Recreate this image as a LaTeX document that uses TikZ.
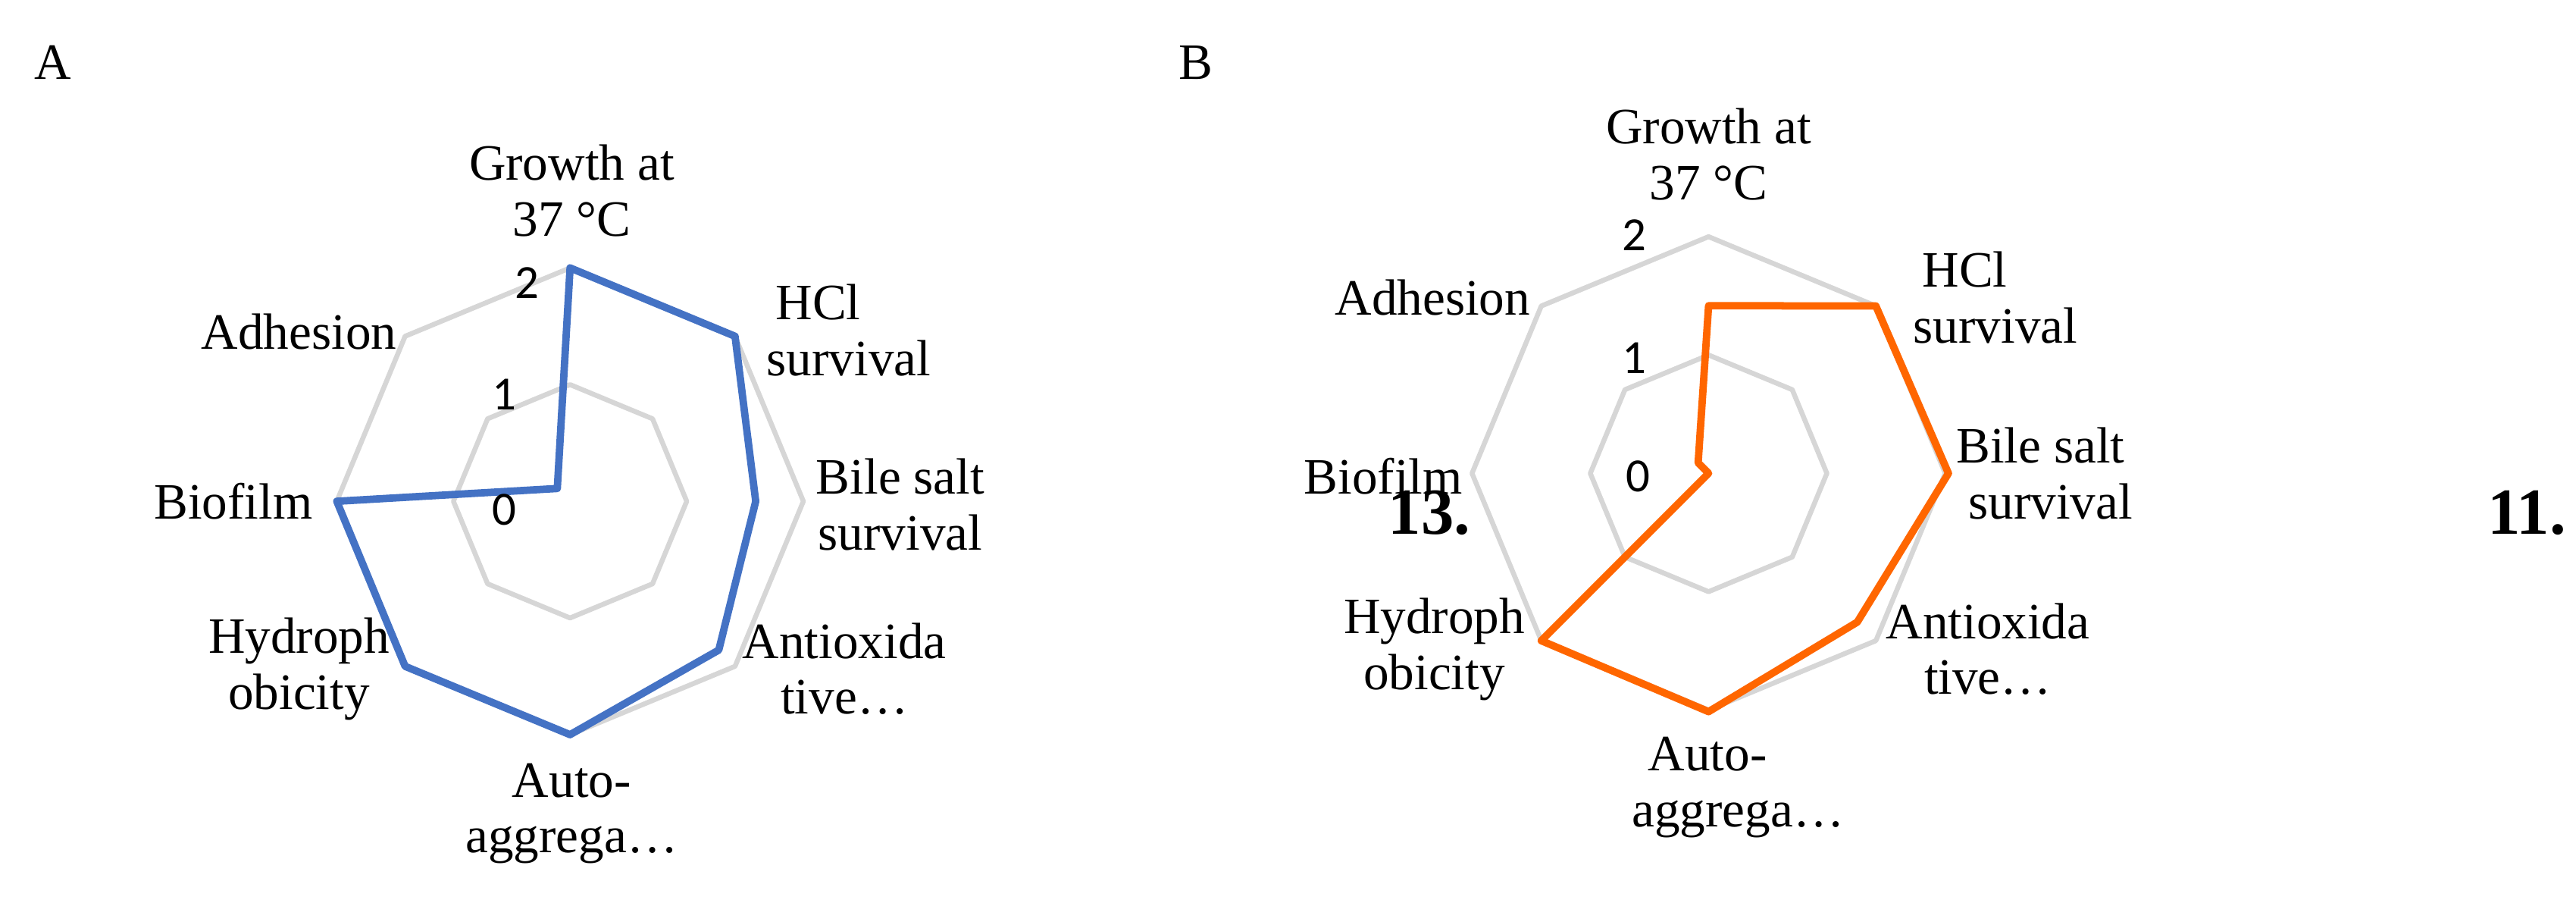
\documentclass[tikz,border=0pt]{standalone}
\usepackage{fontspec}
\usetikzlibrary{calc}
\setmainfont{Liberation Serif}
\newfontfamily\tickfont{Carlito}
\definecolor{serblue}{RGB}{68,114,196}
\definecolor{serorange}{RGB}{255,102,0}
\begin{document}
\begin{tikzpicture}[x=1pt,y=-1pt,
  lab/.style={font=\fontsize{31}{34}\selectfont,align=center,inner sep=0pt},
  tick/.style={font=\tickfont\fontsize{29}{30}\selectfont,inner sep=0pt},
  grid/.style={draw=black!16,line width=3pt,line join=round},
  serA/.style={draw=serblue,line width=4.5pt,line join=round},
  serB/.style={draw=serorange,line width=4.5pt,line join=round}]
\useasboundingbox (0,0) rectangle (1568,549);
% ---------- Chart A
\coordinate (ca) at (347,305);
\foreach \r in {71,142}{
  \draw[grid] ($(ca)+(90:\r)$) \foreach \k in {1,...,7}{ -- ($(ca)+(90+45*\k:\r)$)} -- cycle;}
\draw[serA] ($(ca)+(-90:142)$) -- ($(ca)+(-45:142)$) -- ($(ca)+(0:113)$) -- ($(ca)+(45:128)$)
  -- ($(ca)+(90:142)$) -- ($(ca)+(135:142)$) -- ($(ca)+(180:142)$) -- ($(ca)+(-135:11)$) -- cycle;
\node[lab] (a1) at (348,116) {Growth at\\37 °C};
\node[lab] (a2) at (498,201) {HCl\\\hspace*{1.2em}survival};
\node[lab] (a3) at (548,307) {Bile salt\\survival};
\node[lab] (a4) at (514,407) {Antioxida\\tive…};
\node[lab] (a5) at (348,495) {Auto-\\aggrega…};
\node[lab] (a6) at (182,407) {Hydroph\\obicity};
\node[lab] (a7) at (142,305) {Biofilm};
\node[lab] (a8) at (182,202) {Adhesion};
\node[tick] (t2a) at (321,172) {2};
\node[tick] (t1a) at (307,240) {1};
\node[tick] (t0a) at (307,310) {0};
\node[lab] (A) at (32,38) {A};
% ---------- Chart B
\coordinate (cb) at (1040,288);
\foreach \r in {72,144}{
  \draw[grid] ($(cb)+(90:\r)$) \foreach \k in {1,...,7}{ -- ($(cb)+(90+45*\k:\r)$)} -- cycle;}
\node[lab] (b1) at (1040,94) {Growth at\\37 °C};
\node[lab] (b2) at (1196,181) {HCl\\\hspace*{1.2em}survival};
\node[lab] (b3) at (1242,288) {Bile salt\\\hspace*{0.4em}survival};
\node[lab] (b4) at (1210,395) {Antioxida\\tive…};
\node[lab] (b5) at (1058,479) {\hspace*{-1.2em}Auto-\\aggrega…};
\node[lab] (b6) at (873,395) {Hydroph\\obicity};
\node[lab] (b7) at (842,290) {Biofilm};
\node[lab] (b8) at (872,181) {Adhesion};
\node[font=\bfseries\fontsize{40}{42}\selectfont,inner sep=0pt] (n13) at (870,312) {13.};
\node[font=\bfseries\fontsize{40}{42}\selectfont,inner sep=0pt] (n11) at (1538,312) {11.};
\draw[serB] ($(cb)+(-90:102)$) -- ($(cb)+(-45:144)$) -- ($(cb)+(0:146)$) -- ($(cb)+(45:128)$)
  -- ($(cb)+(90:145)$) -- ($(cb)+(135:144)$) -- (cb) -- ($(cb)+(-135:9)$) -- cycle;
\node[tick] (t2b) at (995,143) {2};
\node[tick] (t1b) at (995,218) {1};
\node[tick] (t0b) at (997,290) {0};
\node[lab] (B) at (728,38) {B};
\end{tikzpicture}
\end{document}
